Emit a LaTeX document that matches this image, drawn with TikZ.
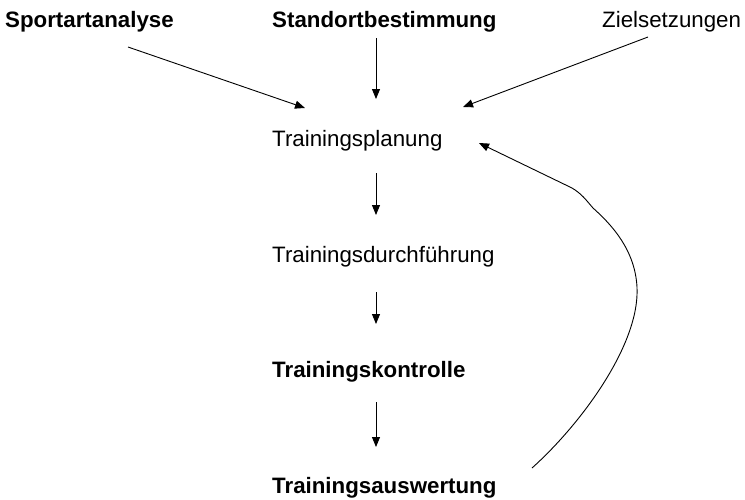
\documentclass[tikz,border=0pt]{standalone}
\usepackage{fontspec}
\setmainfont{Liberation Sans}
\usetikzlibrary{arrows.meta}

\begin{document}
\begin{tikzpicture}[x=1pt, y=-1pt]
        \tikzstyle{txt} = [anchor=base west, inner sep=0pt, font=\fontsize{22.3}{27}\selectfont]
        \tikzstyle{btxt} = [txt, font=\fontsize{22.3}{27}\selectfont\bfseries]
        \tikzstyle{pfeil} = [-{Triangle[length=10pt, width=8pt]}, line width=0.9pt]
        \useasboundingbox (0, 0) rectangle (745, 499);
        % Texte
        \node[btxt] (sport) at (5, 27) {Sportartanalyse};
        \node[btxt] (stand) at (272, 27) {Standortbestimmung};
        \node[txt] (ziel) at (602, 27) {Zielsetzungen};
        \node[txt] (plan) at (272, 146) {Trainingsplanung};
        \node[txt] (durch) at (272, 262) {Trainingsdurchführung};
        \node[btxt] (kontr) at (272, 377) {Trainingskontrolle};
        \node[btxt] (ausw) at (272, 493) {Trainingsauswertung};
        % Pfeilenden
        \coordinate (sportA) at (128, 47);
        \coordinate (standA) at (376, 38);
        \coordinate (zielA) at (648, 37);
        \coordinate (planL) at (305, 108);
        \coordinate (planM) at (376, 99);
        \coordinate (planR) at (463, 107);
        \coordinate (planU) at (376, 173);
        \coordinate (durchO) at (376, 215);
        \coordinate (durchU) at (376, 292);
        \coordinate (kontrO) at (376, 324);
        \coordinate (kontrU) at (376, 402);
        \coordinate (auswO) at (376, 447);
        \coordinate (auswR) at (532, 468);
        \coordinate (planE) at (479, 143);
        % Pfeile
        \draw[pfeil] (sportA) -- (planL);
        \draw[pfeil] (standA) -- (planM);
        \draw[pfeil] (zielA) -- (planR);
        \draw[pfeil] (planU) -- (durchO);
        \draw[pfeil] (durchU) -- (kontrO);
        \draw[pfeil] (kontrU) -- (auswO);
        \draw[pfeil] (auswR) .. controls (580, 425) and (640, 345) .. (637, 287)
                .. controls (635, 250) and (612, 225) .. (593, 208)
                .. controls (586, 200) and (582, 194) .. (572, 188)
                -- (planE);
      \end{tikzpicture}
\end{document}
